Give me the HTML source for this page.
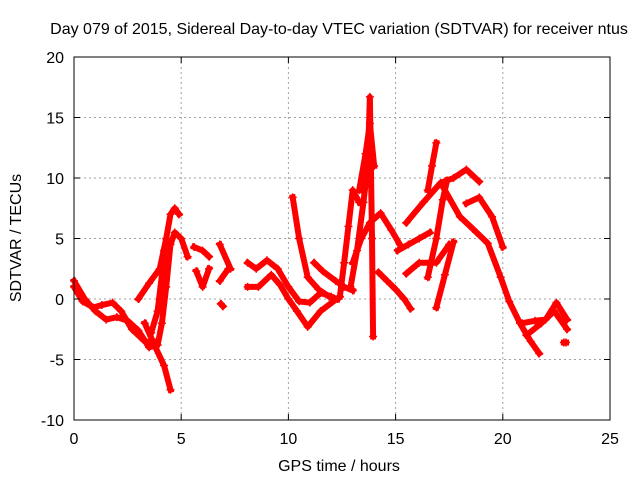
<!DOCTYPE html>
<html><head><meta charset="utf-8"><style>
body{margin:0;background:#fff}
svg text{font-family:"Liberation Sans",sans-serif;font-size:16px;fill:#000}
</style></head><body>
<svg id="c" width="640" height="480">
<text x="339" y="34" text-anchor="middle">Day 079 of 2015, Sidereal Day-to-day VTEC variation (SDTVAR) for receiver ntus</text>
<text x="339" y="471" text-anchor="middle">GPS time / hours</text>
<text transform="translate(21,238) rotate(-90)" text-anchor="middle">SDTVAR / TECUs</text>
<g id="grid"></g><g id="marks"></g><g id="axes"></g>
</svg>
<script>
const xTicks=[0,5,10,15,20,25];
const yTicks=[-10,-5,0,5,10,15,20];
const t1x=[0,0.5,1,1.5,2,2.5,3,3.5,3.9,4.1,4.3,4.5,4.7,5.0,5.3];
const t1y=[1.5,0,-1,-1.7,-1.5,-1.8,-2.6,-4,-3.8,-2,1,4.5,5.5,5,3.5];
const t2x=[0,0.4,0.9,1.3,1.8,2.2,2.7,3.3,3.8];
const t2y=[1,-0.2,-0.7,-0.5,-0.3,-1,-2.5,-3.5,-3.6];
const t3x=[3.3,3.8,4.2,4.5];
const t3y=[-2,-4,-5.5,-7.5];
const t4x=[3,3.5,4,4.3,4.5,4.7,4.9];
const t4y=[0,1.3,2.5,5,7,7.5,7];
const t5x=[3.6,3.9,4.1,4.2];
const t5y=[-2.8,-1,2,4];
const t6x=[5.6,6.0,6.3];
const t6y=[4.3,4,3.5];
const t7x=[5.7,6.0,6.3];
const t7y=[2.3,1.0,2.5];
const t8x=[6.8,7.3];
const t8y=[4.5,2.5];
const t9x=[6.8,7.2];
const t9y=[1.5,2.5];
const t10x=[6.85,6.95];
const t10y=[-0.4,-0.6];
const t11x=[8.1,8.5,9,9.5,10,10.5,11,11.5,12];
const t11y=[3,2.5,3.2,2.5,1,-0.2,-0.3,0.5,0.2];
const t12x=[8.1,8.6,9.2,9.6,10,10.4,10.9,11.5,12.4];
const t12y=[1,1,2,1.2,0,-1,-2.3,-1,0.2];
const t13x=[10.2,10.5,10.9,11.4,11.9,12.3];
const t13y=[8.4,5,1.8,0.8,0.2,0];
const t14x=[11.2,11.6,12.2,12.6,13];
const t14y=[3,2.3,1.5,1,0.7];
const t15x=[12.4,12.6,12.8,13.0,13.3];
const t15y=[0.2,3,6,9,8];
const t16x=[12.9,13.2,13.5,13.7,13.8,13.9,13.95];
const t16y=[1,4,8,11,16.7,5,-3.1];
const t17x=[13.3,13.6,13.8,14.0];
const t17y=[9,12,14.5,11];
const t18x=[13.0,13.4,13.8,14.3,14.8,15.2];
const t18y=[3,5,6.3,7.1,5.7,4.5];
const t19x=[14.2,14.6,15.0,15.4,15.7];
const t19y=[2.2,1.5,0.8,0,-0.8];
const t20x=[15.1,15.6,16.1,16.6];
const t20y=[4,4.5,5,5.5];
const t21x=[15.5,16.1,16.9,17.5];
const t21y=[2.1,3,3,4.5];
const t22x=[16.5,16.9,17.2,17.4];
const t22y=[1.8,5,8.2,9.8];
const t23x=[16.5,16.7,16.9];
const t23y=[9,11,12.9];
const t24x=[15.5,16.3,17.1,17.7,18.3,18.9];
const t24y=[6.3,8,9.6,10,10.7,9.7];
const t25x=[18.3,18.9,19.5,20];
const t25y=[7.9,8.4,6.8,4.3];
const t26x=[17.2,18,18.6,19.3,19.9,20.3,20.8,21.3,21.7];
const t26y=[9.3,6.8,5.8,4.6,1.8,-0.2,-2,-3.5,-4.5];
const t27x=[16.9,17.3,17.7];
const t27y=[-0.7,2,4.7];
const t28x=[20.9,21.5,22,22.5,23];
const t28y=[-2,-1.8,-1.7,-0.3,-1.7];
const t29x=[21.1,21.8,22.4,23];
const t29y=[-3,-2,-1,-2.5];
const t30x=[22.85,22.95];
const t30y=[-3.6,-3.6];
const traces=[[t1x,t1y],[t2x,t2y],[t3x,t3y],[t4x,t4y],[t5x,t5y],[t6x,t6y],[t7x,t7y],[t8x,t8y],[t9x,t9y],[t10x,t10y],[t11x,t11y],[t12x,t12y],[t13x,t13y],[t14x,t14y],[t15x,t15y],[t16x,t16y],[t17x,t17y],[t18x,t18y],[t19x,t19y],[t20x,t20y],[t21x,t21y],[t22x,t22y],[t23x,t23y],[t24x,t24y],[t25x,t25y],[t26x,t26y],[t27x,t27y],[t28x,t28y],[t29x,t29y],[t30x,t30y]];
const L=74,R=610,T=57,B=420;
const X=v=>L+(v-0)/25*(R-L);
const Y=v=>B-(v+10)/30*(B-T);
const NS="http://www.w3.org/2000/svg";
function mk(tag,parent,attrs){const e=document.createElementNS(NS,tag);for(const k in attrs)e.setAttribute(k,attrs[k]);parent.appendChild(e);return e;}
const grid=document.getElementById('grid'),axes=document.getElementById('axes'),marks=document.getElementById('marks');
xTicks.forEach(v=>{
  if(v>0&&v<25){const g=mk('line',grid,{x1:X(v),x2:X(v),y1:T,y2:B,stroke:'#a0a0a0','stroke-dasharray':'2,3'});
  
  }
  mk('line',axes,{x1:X(v),x2:X(v),y1:B,y2:B-6,stroke:'#000'});
  mk('line',axes,{x1:X(v),x2:X(v),y1:T,y2:T+6,stroke:'#000'});
  const t=mk('text',axes,{x:X(v),y:B+24,'text-anchor':'middle'});t.textContent=v;
  
  
});
yTicks.forEach(v=>{
  if(v>-10&&v<20){const g=mk('line',grid,{x1:L,x2:R,y1:Y(v),y2:Y(v),stroke:'#a0a0a0','stroke-dasharray':'2,3'});
  
  }
  mk('line',axes,{x1:L,x2:L+6,y1:Y(v),y2:Y(v),stroke:'#000'});
  mk('line',axes,{x1:R,x2:R-6,y1:Y(v),y2:Y(v),stroke:'#000'});
  const t=mk('text',axes,{x:L-10,y:Y(v)+6,'text-anchor':'end'});t.textContent=v;
  
  
});
const bd=mk('rect',axes,{x:L,y:T,width:R-L,height:B-T,fill:'none',stroke:'#000'});


traces.forEach((tr,i)=>{
  const pts=tr[0].map((x,j)=>X(x)+','+Y(tr[1][j])).join(' ');
  const p=mk('polyline',marks,{points:pts,fill:'none',stroke:'#f00','stroke-width':6,'stroke-linejoin':'round','stroke-linecap':'square'});
  
  
  tr[0].forEach((x,j)=>{
    const cx=X(x),cy=Y(tr[1][j]);
    const c=mk('path',marks,{d:`M${cx-4},${cy}H${cx+4}M${cx},${cy-4}V${cy+4}`,stroke:'#f00','stroke-width':1.5});
    
    
  });
});
</script>
</body></html>
